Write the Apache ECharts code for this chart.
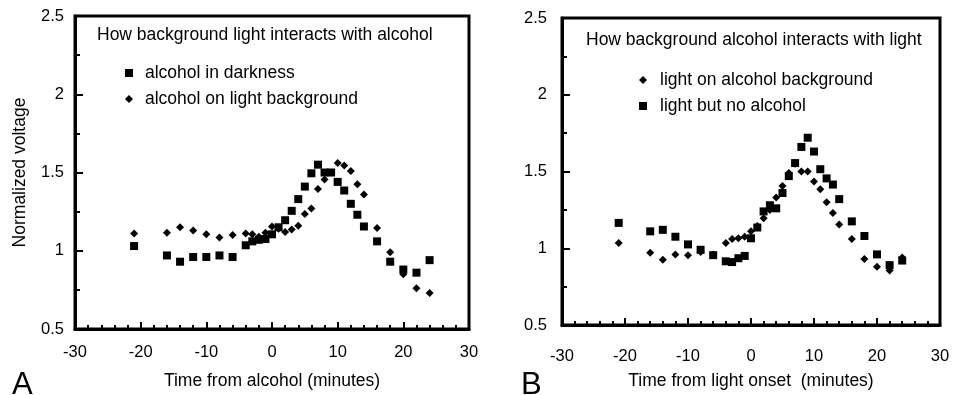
<!DOCTYPE html>
<html>
<head>
<meta charset="utf-8">
<script src="https://cdn.jsdelivr.net/npm/echarts@6/dist/echarts.min.js"></script>
<style>
html,body{margin:0;padding:0;background:#fff;}
#chart{width:964px;height:395px;}
</style>
</head>
<body>
<div id="chart"></div>
<script>
// ---- Data ----
const timeA = [-21,-16,-14,-12,-10,-8,-6,-4,-3,-2,-1,0,1,2,3,4,5,6,7,8,9,10,11,12,13,14,16,18,20,22,24];
const alcoholDarkness = [1.03,0.97,0.93,0.96,0.96,0.97,0.96,1.035,1.06,1.07,1.075,1.105,1.15,1.195,1.255,1.33,1.41,1.495,1.55,1.50,1.50,1.44,1.385,1.30,1.23,1.155,1.06,0.93,0.88,0.86,0.94];
const alcoholLightBg = [1.11,1.115,1.15,1.13,1.105,1.085,1.10,1.11,1.105,1.09,1.115,1.155,1.14,1.12,1.135,1.16,1.235,1.27,1.395,1.455,1.50,1.56,1.545,1.51,1.425,1.36,1.145,0.99,0.85,0.76,0.73];

const timeB = [-21,-16,-14,-12,-10,-8,-6,-4,-3,-2,-1,0,1,2,3,4,5,6,7,8,9,10,11,12,13,14,16,18,20,22,24];
const lightOnAlcohol = [1.035,0.97,0.925,0.96,0.955,0.975,0.96,1.035,1.06,1.065,1.075,1.11,1.145,1.195,1.25,1.33,1.405,1.49,1.55,1.50,1.50,1.435,1.385,1.30,1.23,1.155,1.06,0.93,0.88,0.855,0.94];
const lightNoAlcohol = [1.165,1.11,1.12,1.075,1.025,0.99,0.955,0.915,0.91,0.935,0.95,1.065,1.135,1.24,1.28,1.26,1.36,1.47,1.555,1.66,1.72,1.63,1.515,1.455,1.415,1.32,1.175,1.08,0.96,0.89,0.92];

const xTicks = {min:-30, max:30, interval:10};
const yTicks = {min:0.5, max:2.5, interval:0.5};

const nameA1 = 'alcohol in darkness';
const nameA2 = 'alcohol on light background';
const nameB1 = 'light on alcohol background';
const nameB2 = 'light but no alcohol';

const FONT = '"Liberation Sans", Arial, Helvetica, sans-serif';
const TXT = 17.5;

function pairs(xs, ys){ return xs.map((x,i)=>[x, ys[i]]); }

function xAxis(gi, name, labelMargin, nameGap){
  return {
    type:'value', gridIndex:gi, min:xTicks.min, max:xTicks.max, interval:xTicks.interval,
    name:name, nameLocation:'middle', nameGap:nameGap,
    nameTextStyle:{fontFamily:FONT, fontSize:TXT, color:'#000'},
    axisLine:{show:true, onZero:false, lineStyle:{color:'#000', width:3}},
    axisTick:{show:true, inside:true, length:7, lineStyle:{color:'#000', width:2}},
    minorTick:{show:true, splitNumber:5, length:4, lineStyle:{color:'#000', width:2}},
    splitLine:{show:false},
    axisLabel:{fontFamily:FONT, fontSize:16.5, color:'#000', margin:labelMargin}
  };
}
function yAxis(gi, name, labelMargin){
  return {
    type:'value', gridIndex:gi, min:yTicks.min, max:yTicks.max, interval:yTicks.interval,
    name:name, nameLocation:'middle', nameGap:46,
    nameTextStyle:{fontFamily:FONT, fontSize:TXT, color:'#000'},
    axisLine:{show:true, onZero:false, lineStyle:{color:'#000', width:3}},
    axisTick:{show:true, inside:true, length:8, lineStyle:{color:'#000', width:2}},
    minorTick:{show:true, splitNumber:2, length:5, lineStyle:{color:'#000', width:2}},
    splitLine:{show:false},
    axisLabel:{fontFamily:FONT, fontSize:16.5, color:'#000', margin:labelMargin}
  };
}

const sq = {symbol:'rect', symbolSize:8};
const dm = {symbol:'diamond', symbolSize:8};
const ink = {color:'#000', opacity:1};

const chart = echarts.init(document.getElementById('chart'), null, {renderer:'canvas'});
chart.setOption({
  animation:false,
  backgroundColor:'#fff',
  grid:[
    {left:75, top:16, width:394, height:314, show:true, borderColor:'#000', borderWidth:3, backgroundColor:'transparent'},
    {left:562, top:18, width:378, height:315, show:true, borderColor:'#000', borderWidth:3, backgroundColor:'transparent'}
  ],
  xAxis:[ xAxis(0, 'Time from alcohol (minutes)', 15, 43), xAxis(1, 'Time from light onset  (minutes)', 23, 47) ],
  yAxis:[ yAxis(0, 'Normalized voltage', 11), yAxis(1, '', 15) ],
  title:[
    {text:'How background light interacts with alcohol', left:97, top:26, padding:0,
     textStyle:{fontFamily:FONT, fontSize:TXT, fontWeight:'normal', color:'#000'}},
    {text:'How background alcohol interacts with light', left:586, top:31, padding:0,
     textStyle:{fontFamily:FONT, fontSize:TXT, fontWeight:'normal', color:'#000'}},
    {text:'A', left:12, top:370, padding:0, textStyle:{fontFamily:FONT, fontSize:31, fontWeight:'normal', color:'#000'}},
    {text:'B', left:521, top:370, padding:0, textStyle:{fontFamily:FONT, fontSize:31, fontWeight:'normal', color:'#000'}}
  ],
  legend:[
    {data:[{name:nameA1, icon:'rect'},{name:nameA2, icon:'diamond'}], orient:'vertical',
     left:120, top:59, itemWidth:8, itemHeight:8, itemGap:8, selectedMode:false,
     textStyle:{fontFamily:FONT, fontSize:TXT, color:'#000', padding:[0,0,0,7]}},
    {data:[{name:nameB1, icon:'diamond'},{name:nameB2, icon:'rect'}], orient:'vertical',
     left:634, top:66, itemWidth:8, itemHeight:8, itemGap:8, selectedMode:false,
     textStyle:{fontFamily:FONT, fontSize:TXT, color:'#000', padding:[0,0,0,8]}}
  ],
  series:[
    Object.assign({type:'scatter', name:nameA2, xAxisIndex:0, yAxisIndex:0, data:pairs(timeA, alcoholLightBg), itemStyle:ink}, dm),
    Object.assign({type:'scatter', name:nameA1, xAxisIndex:0, yAxisIndex:0, data:pairs(timeA, alcoholDarkness), itemStyle:ink}, sq),
    Object.assign({type:'scatter', name:nameB1, xAxisIndex:1, yAxisIndex:1, data:pairs(timeB, lightOnAlcohol), itemStyle:ink}, dm),
    Object.assign({type:'scatter', name:nameB2, xAxisIndex:1, yAxisIndex:1, data:pairs(timeB, lightNoAlcohol), itemStyle:ink}, sq)
  ]
});
</script>
</body>
</html>
